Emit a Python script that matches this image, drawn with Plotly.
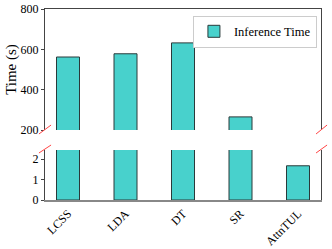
import plotly.graph_objects as go

methods = ["LCSS", "LDA", "DT", "SR", "AttnTUL"]
inference_time = [562, 578, 632, 265, 1.67]
series_name = "Inference Time"
top_ticks = [200, 400, 600, 800]
bottom_ticks = [0, 1, 2]

FILL = "#48D1CC"
EDGE = "#2a3a3a"
FONT = "Liberation Serif"

fig = go.Figure()
fig.add_trace(go.Bar(x=methods, y=inference_time, name=series_name,
                     marker=dict(color=FILL, line=dict(color=EDGE, width=1)),
                     width=0.4, xaxis="x", yaxis="y", showlegend=False))
fig.add_trace(go.Bar(x=methods, y=inference_time, name=series_name,
                     marker=dict(color=FILL, line=dict(color=EDGE, width=1)),
                     width=0.4, xaxis="x2", yaxis="y2", showlegend=True))

axis_col = "#444444"
tf = dict(family=FONT, size=12, color="black")
fig.update_layout(
    template="none",
    width=332, height=249,
    margin=dict(l=45, r=11, t=9, b=49, autoexpand=False),
    paper_bgcolor="white", plot_bgcolor="white",
    font=dict(family=FONT, size=12, color="black"),
    xaxis=dict(domain=[0, 1], anchor="y", range=[-0.4, 4.4], tickangle=-45,
               showline=True, linecolor="#888888", linewidth=2, ticks="",
               showgrid=False, zeroline=False, tickfont=tf, automargin=False),
    xaxis2=dict(domain=[0, 1], anchor="y2", range=[-0.4, 4.4], matches="x",
                side="top", showticklabels=False, showline=True,
                linecolor=axis_col, linewidth=1, ticks="", showgrid=False,
                zeroline=False, automargin=False),
    yaxis=dict(domain=[0, 50 / 191], anchor="x", range=[0, 2.44],
               tickvals=bottom_ticks, ticks="outside", ticklen=3,
               tickcolor=axis_col, showline=True, mirror=True,
               linecolor=axis_col, linewidth=1, showgrid=False,
               zeroline=False, tickfont=tf, automargin=False),
    yaxis2=dict(domain=[70 / 191, 1], anchor="x2", range=[200, 800],
                tickvals=top_ticks, ticks="outside", ticklen=3,
                tickcolor=axis_col, showline=True, mirror=True,
                linecolor=axis_col, linewidth=1, showgrid=False,
                zeroline=False, tickfont=tf, automargin=False,
                title=dict(text="Time (s)", font=dict(family=FONT, size=15),
                           standoff=0)),
    legend=dict(x=0.536, y=0.965, xanchor="left", yanchor="top",
                bordercolor="#cccccc", borderwidth=1, bgcolor="white",
                font=dict(family=FONT, size=12.5, color="black")),
    bargap=0.6,
)

red = "#ff4444"
shapes = []
for xr0, xr1 in [(-0.022, 0.022), (0.982, 1.022)]:
    shapes.append(dict(type="line", xref="x domain", yref="y2 domain",
                       x0=xr0, x1=xr1, y0=-0.033, y1=0.041,
                       line=dict(color=red, width=1)))
    shapes.append(dict(type="line", xref="x domain", yref="y domain",
                       x0=xr0, x1=xr1, y0=0.94, y1=1.1,
                       line=dict(color=red, width=1)))
fig.update_layout(shapes=shapes)

fig.write_html("out.html", config={"displayModeBar": False},
               post_script="document.body.style.margin='0px';document.body.style.overflow='hidden';")
